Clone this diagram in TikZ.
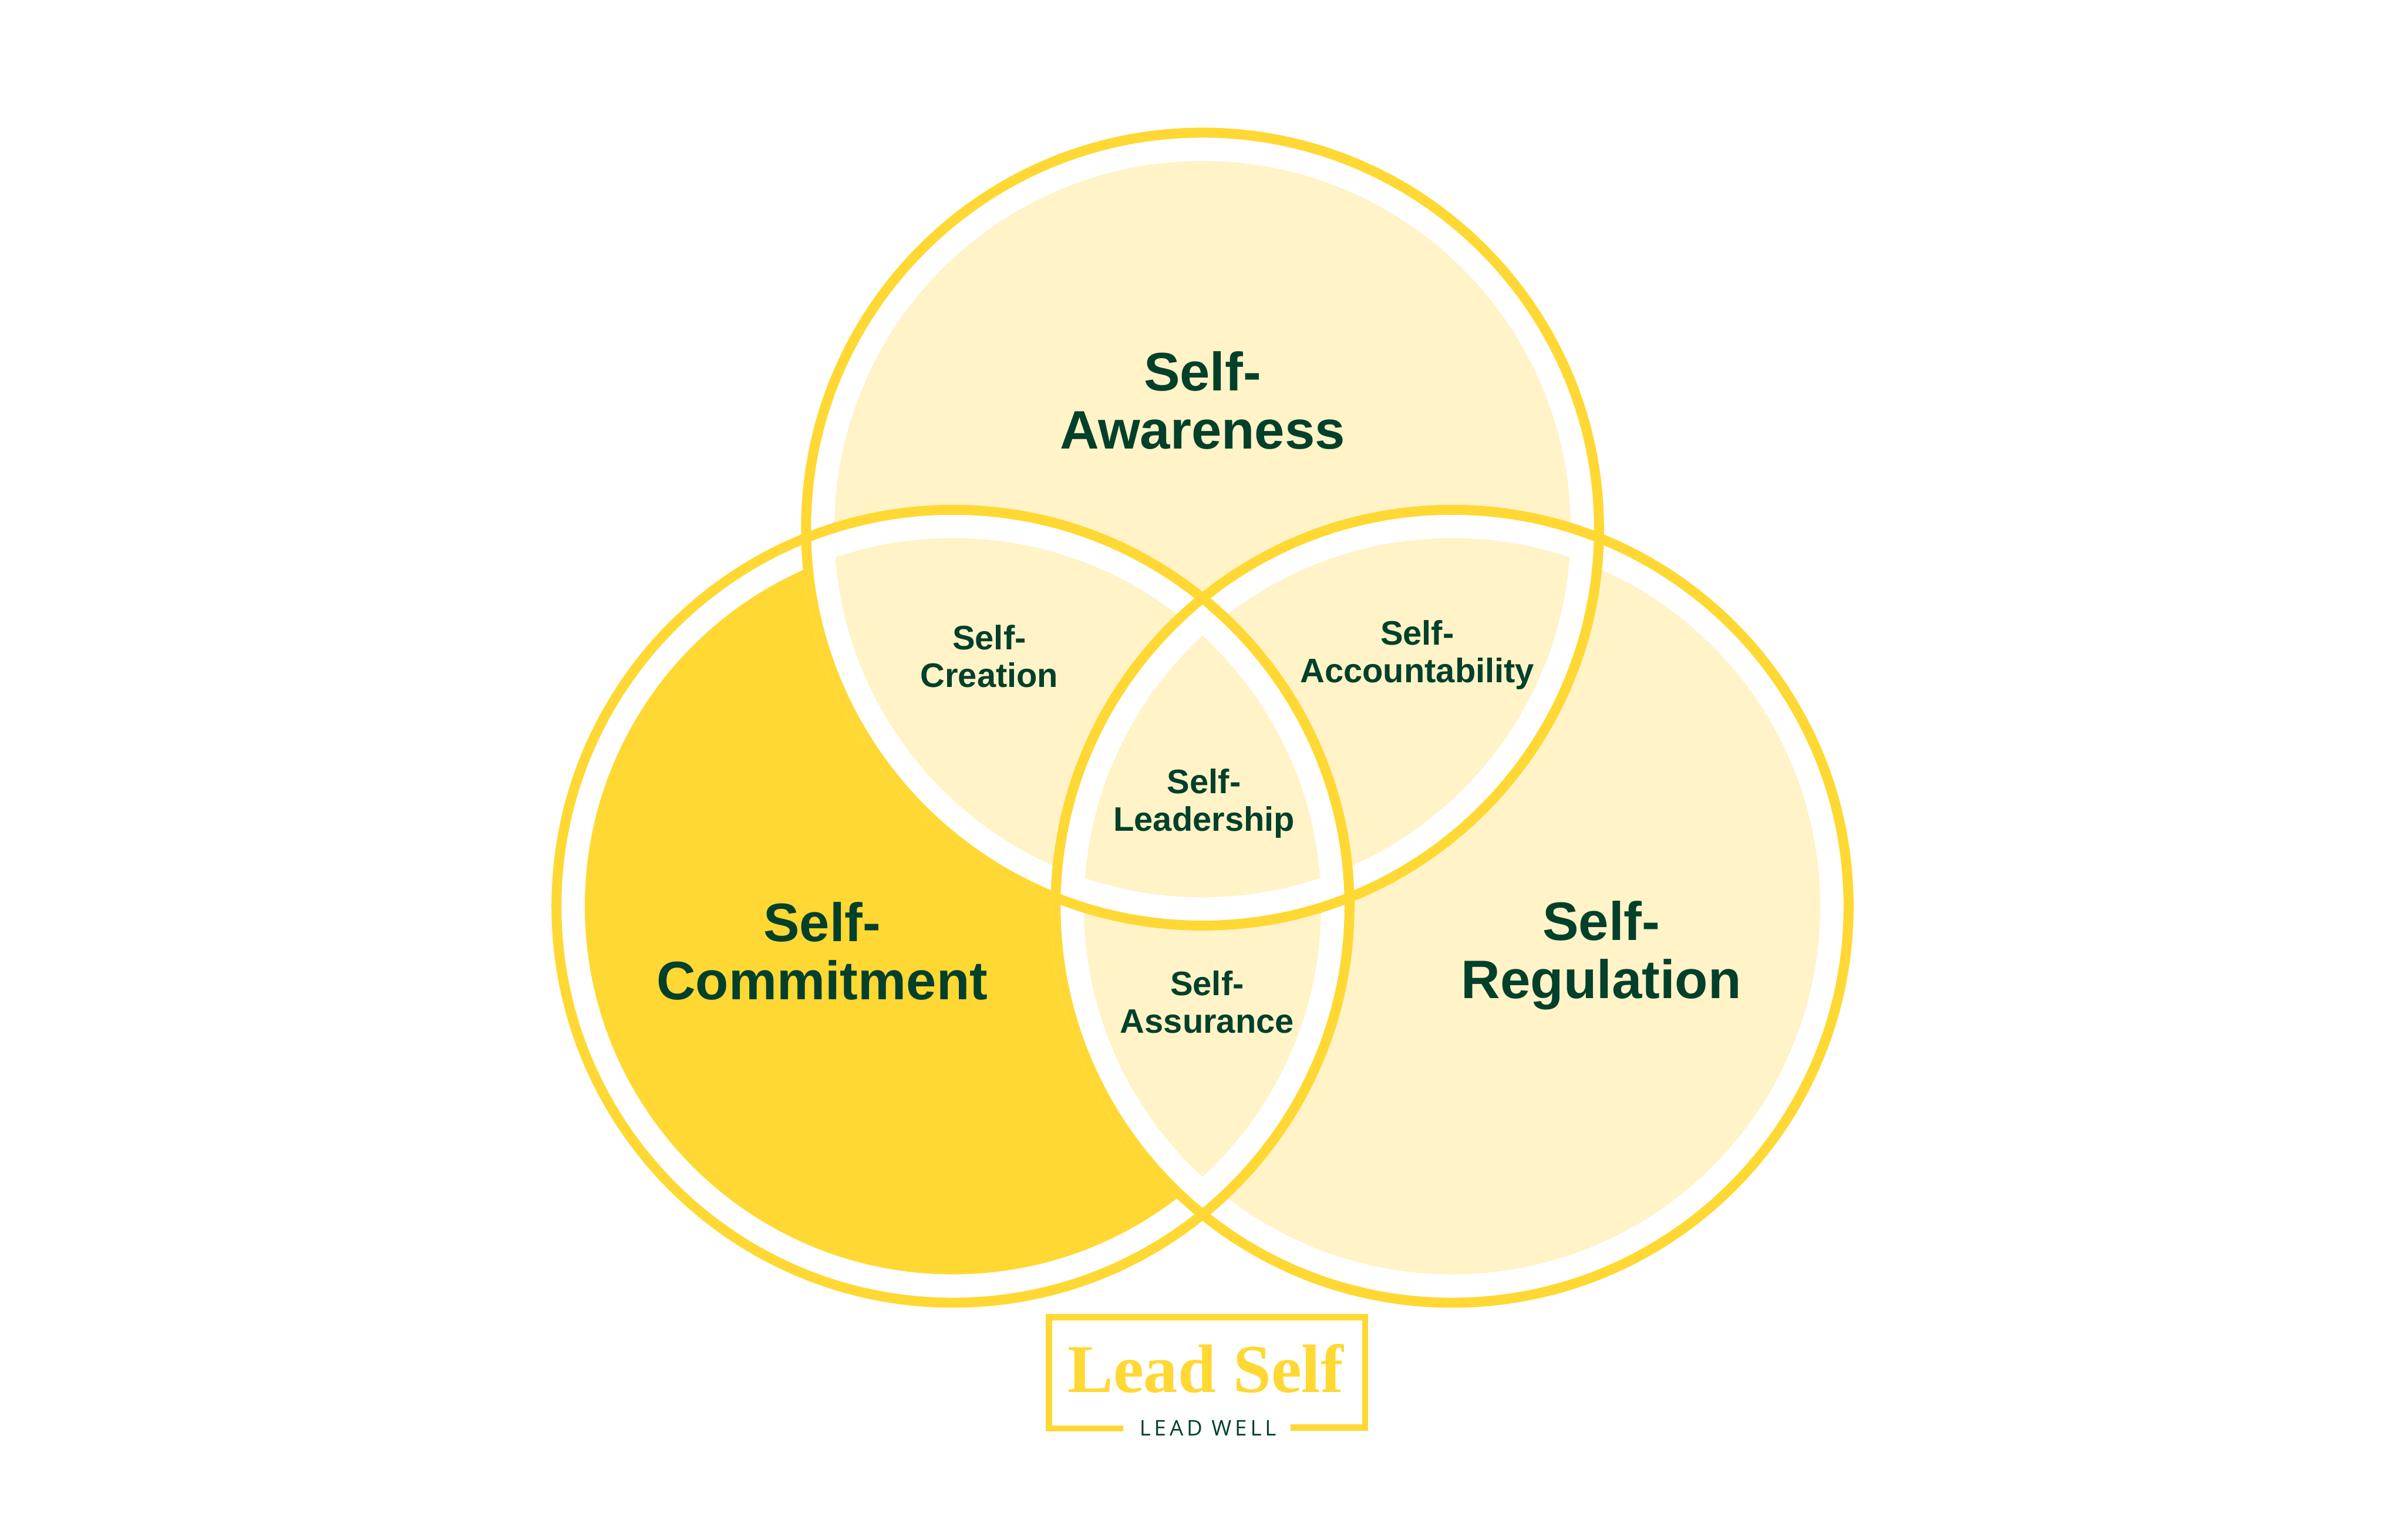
\documentclass[tikz,border=0pt]{standalone}
\usepackage{fontspec}
\setmainfont{Liberation Sans}
\newfontfamily\logoserif{Liberation Serif}
\newfontfamily\logosans[LetterSpace=16]{Open Sans}
\definecolor{ringyellow}{RGB}{255,216,51}
\definecolor{paleyellow}{RGB}{255,243,199}
\definecolor{deepgreen}{RGB}{3,64,43}

\begin{document}
\begin{tikzpicture}[
    every node/.style={text=deepgreen, align=center},
    bigtext/.style={font=\fontsize{10.05}{10.8}\selectfont\bfseries},
    smalltext/.style={font=\fontsize{6.3}{7}\selectfont\bfseries},
    disc/.style={fill=paleyellow},
    gapring/.style={draw=white, line width=0.217cm},
    ring/.style={draw=ringyellow, line width=0.0651cm}
]
\useasboundingbox (0,0) rectangle (15.68,10.04);

\coordinate (top) at (7.840,6.590);
\coordinate (left) at (6.213,4.131);
\coordinate (right) at (9.467,4.131);

% discs
\fill[ringyellow] (left) circle (2.401);
\fill[disc] (top) circle (2.401);
\fill[disc] (right) circle (2.401);

% white bands, then rings
\foreach \c in {top,left,right}
    \draw[gapring] (\c) circle (2.509);
\foreach \c in {top,left,right}
    \draw[ring] (\c) circle (2.585);

\node[bigtext] (awareness) at (7.84,7.43) {Self-\\Awareness};
\node[bigtext] (commitment) at (5.36,3.84) {Self-\\Commitment};
\node[bigtext] (regulation) at (10.44,3.81) {Self-\\Regulation};
\node[smalltext] (creation) at (6.45,5.76) {Self-\\Creation};
\node[smalltext] (accountability) at (9.24,5.77) {Self-\\Accountability};
\node[smalltext] (leadership) at (7.85,4.80) {Self-\\Leadership};
\node[smalltext] (assurance) at (7.87,3.505) {Self-\\Assurance};

% logo
\draw[draw=ringyellow, line width=0.041cm] (7.322,0.726) -- (6.84,0.726) -- (6.84,1.452) -- (8.90,1.452) -- (8.90,0.731) -- (8.415,0.731);
\node[anchor=base, text=ringyellow, font=\logoserif\fontsize{12.7}{14}\selectfont\bfseries] (leadself) at (7.86,0.961) {Lead Self};
\node[anchor=base, font=\logosans\fontsize{4}{5}\selectfont] (leadwell) at (7.875,0.677) {LEAD WELL};
\end{tikzpicture}
\end{document}
